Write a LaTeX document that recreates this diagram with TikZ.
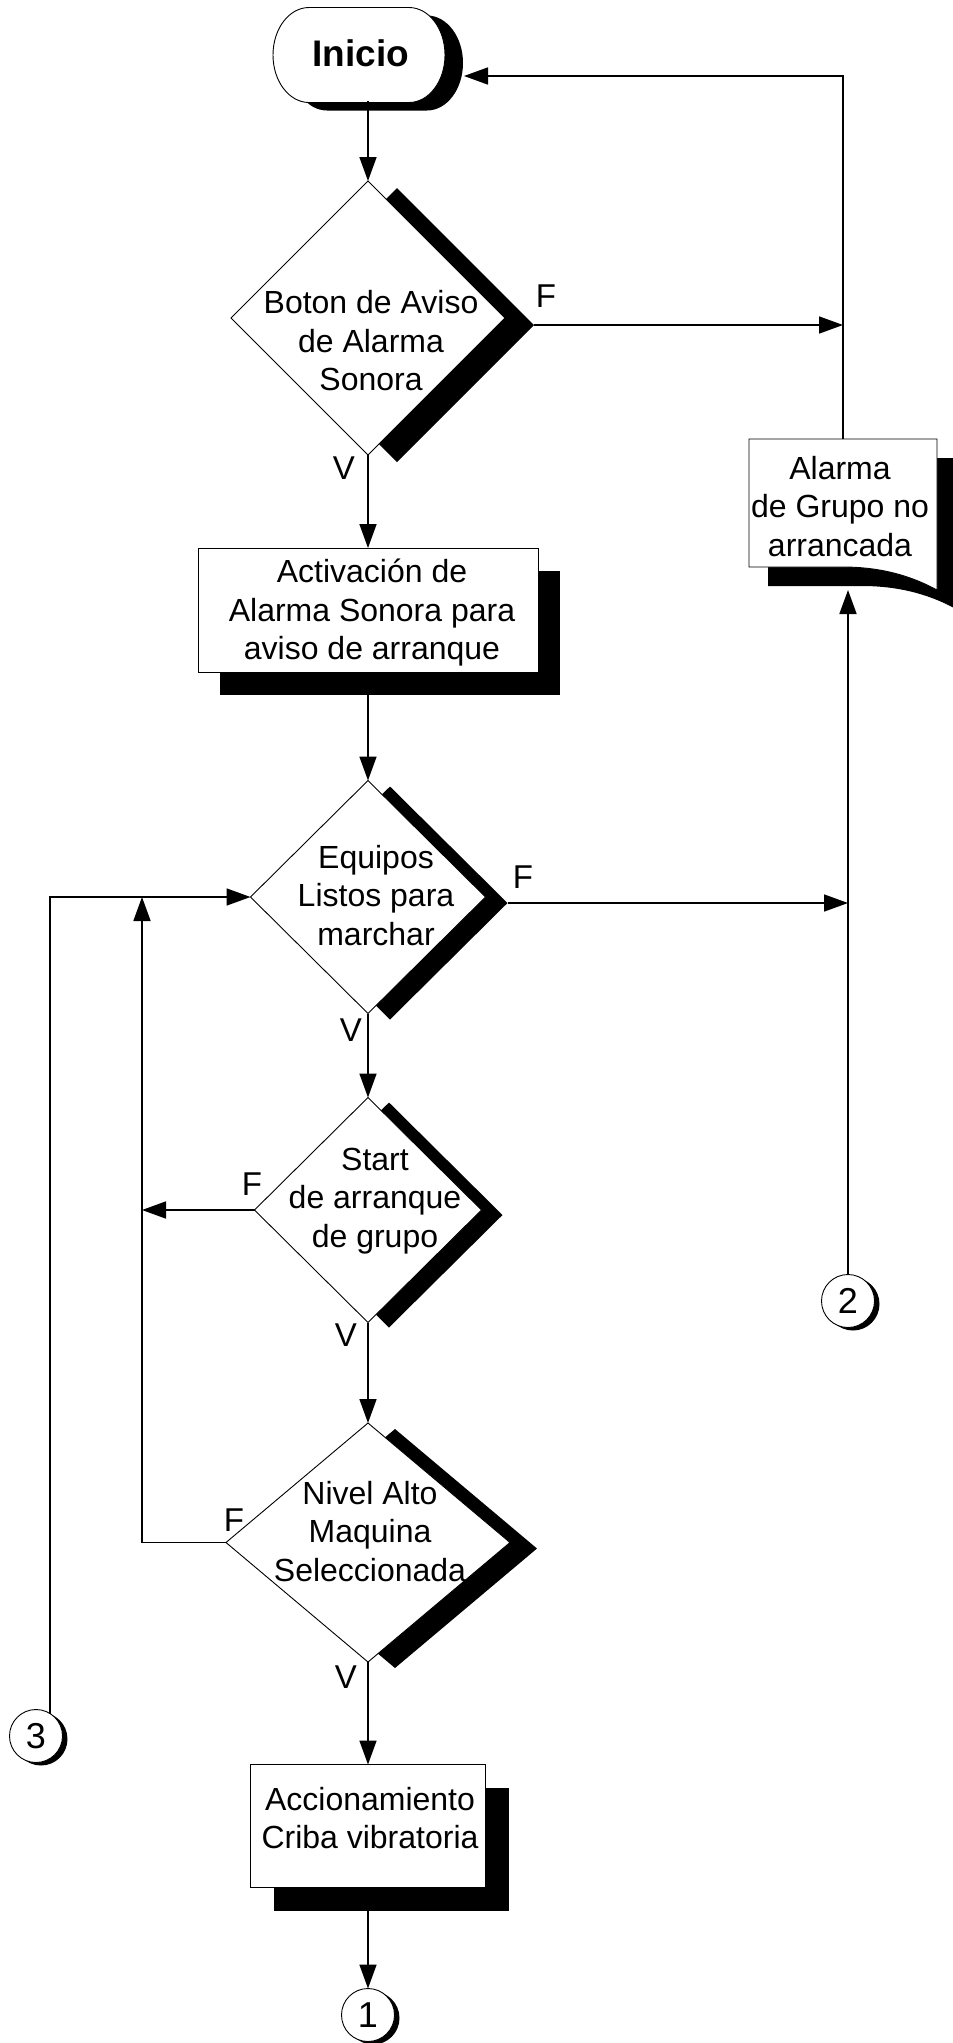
\documentclass[tikz,border=0pt]{standalone}
\usepackage{fontspec}
\setmainfont{Liberation Sans}
\usetikzlibrary{shapes.geometric,arrows.meta,shadows,calc}

\tikzset{
  txt/.style={font=\fontsize{32}{38.5}\selectfont, align=center, inner sep=0pt},
  lbl/.style={font=\fontsize{33}{38}\selectfont, inner sep=0pt},
  link/.style={line width=1.7pt},
  arr/.style={link, -{Triangle[length=24pt,width=17pt]}},
  castshadow/.style 2 args={drop shadow={shadow xshift=#1pt, shadow yshift=-#2pt, opacity=1, fill=black}},
  outline/.style={draw, line width=0.9pt, fill=white, inner sep=0pt, outer sep=0pt},
  decision/.style={diamond, outline},
  process/.style={rectangle, outline},
  connector/.style={circle, outline, minimum size=53pt, font=\fontsize{36}{40}\selectfont, castshadow={5}{3}},
  frame/.style={inner sep=0pt, outer sep=0pt},
}

\begin{document}
\begin{tikzpicture}[x=1pt, y=-1pt]
\useasboundingbox (0,0) rectangle (953,2043);
\clip (0,0) rectangle (953,2043);

% start terminal: shadow, then white body
\fill[black] (327,15.5) -- (427,15.5)
  arc[start angle=-90, end angle=90, x radius=36, y radius=47.5]
  -- (327,110.5)
  arc[start angle=90, end angle=270, x radius=36, y radius=47.5] -- cycle;
\filldraw[fill=white, line width=0.9pt] (309,7.5) -- (409,7.5)
  arc[start angle=-90, end angle=90, x radius=36, y radius=47.5]
  -- (309,102.5)
  arc[start angle=90, end angle=270, x radius=36, y radius=47.5] -- cycle;
\node[frame, minimum width=172pt, minimum height=95pt,
      font=\bfseries\fontsize{37}{42}\selectfont] (ini) at (361,53.5) {Inicio};

% alarm document shape: shadow, then white body
\fill[black] (768,458) -- (956,458) -- (956,609)
  .. controls (934,597) and (904,586) .. (862,586) -- (768,586) -- cycle;
\filldraw[fill=white, line width=0.9pt] (749,439) -- (937,439) -- (937,590)
  .. controls (915,578) and (885,567) .. (843,567) -- (749,567) -- cycle;
\node[frame, minimum width=188pt, minimum height=128pt] (alarm) at (843,503) {};
\node[txt] (ta) at (840,506.5) {Alarma\\de Grupo no\\arrancada};

% decisions
\node[decision, minimum width=274pt, minimum height=274pt, castshadow={29}{7}] (d1) at (368,318) {};
\node[decision, minimum width=235pt, minimum height=233pt, castshadow={22}{6}] (d2) at (368,897) {};
\node[decision, minimum width=227pt, minimum height=225pt, castshadow={21}{5}] (d3) at (368,1210) {};
\node[decision, minimum width=284pt, minimum height=239pt, castshadow={27}{6}] (d4) at (368,1542.5) {};

% processes
\node[process, minimum width=340pt, minimum height=124pt, castshadow={22}{23}] (b1) at (368,610) {};
\node[process, minimum width=235pt, minimum height=123pt, castshadow={23}{23}] (b2) at (368,1826) {};

% texts
\node[txt] (t1) at (371,341) {Boton de Aviso\\de Alarma\\Sonora};
\node[txt] (tb1) at (372,613) {Activación de\\Alarma Sonora para\\aviso de arranque};
\node[txt] (t2) at (376,895.5) {Equipos\\Listos para\\marchar};
\node[txt] (t3) at (375,1201) {Start\\de arranque\\de grupo};
\node[txt] (t4) at (370,1531.5) {Nivel Alto\\Maquina\\Seleccionada};
\node[txt] (tb2) at (370,1818) {Accionamiento\\Criba vibratoria};

% branch labels
\node[lbl] (f1) at (546,296) {F};
\node[lbl] (v1) at (344,468) {V};
\node[lbl] (f2) at (523,877) {F};
\node[lbl] (v2) at (351,1030) {V};
\node[lbl] (f3) at (252,1184) {F};
\node[lbl] (v3) at (346,1335) {V};
\node[lbl] (f4) at (234,1520) {F};
\node[lbl] (v4) at (346,1677) {V};

% off-page connectors
\node[connector] (c1) at (368,2015) {1};
\node[connector] (c2) at (848,1301) {2};
\node[connector] (c3) at (36,1736) {3};

% helper points
\coordinate (inir) at ($(ini.east)+(17,22.5)$);
\coordinate (alarmin) at (848,590);
\coordinate (d1f) at ($(d1.east)+(29,7)$);
\coordinate (d2f) at ($(d2.east)+(22,6)$);
\coordinate (loopT) at (142,897);

% main flow
\draw[arr] (ini.south -| d1.north) -- (d1.north);
\draw[arr] (d1.south) -- (b1.north);
\draw[arr] (b1.south) -- (d2.north);
\draw[arr] (d2.south) -- (d3.north);
\draw[arr] (d3.south) -- (d4.north);
\draw[arr] (d4.south) -- (b2.north);
\draw[arr] (b2.south) -- (c1.north);

% false branches on the right
\draw[arr] (d1f) -- (d1f -| alarm.north);
\draw[arr] (d2f) -- (d2f -| c2.north);
\draw[arr] (alarm.north) |- (inir);
\draw[arr] (c2.north) -- (alarmin);

% loops on the left
\draw[arr] (d3.west) -- (d3.west -| loopT);
\draw[arr] (d4.west) -| (loopT);
\draw[arr] (c3.58) |- (d2.west);
\end{tikzpicture}
\end{document}
